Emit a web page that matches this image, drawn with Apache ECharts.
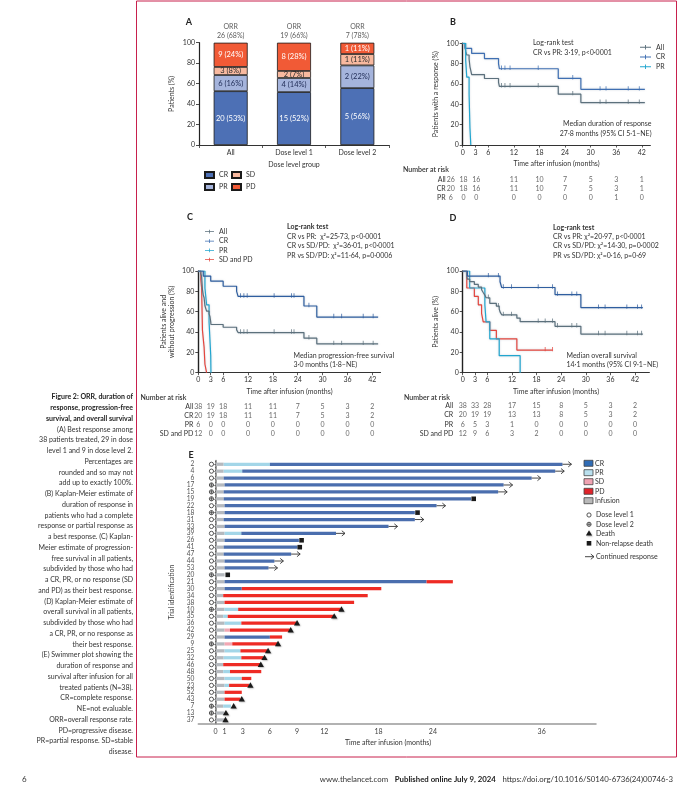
<!DOCTYPE html>
<html><head><meta charset="utf-8">
<script src="https://cdn.jsdelivr.net/npm/echarts@6/dist/echarts.min.js"></script>
<style>html,body{margin:0;padding:0;background:#fff}#c{width:688px;height:792px}</style>
</head><body><div id="c"></div>
<script>
// ---------- Panel A: best response ----------
const groups = ['All', 'Dose level 1', 'Dose level 2'];
const crCount = [20, 15, 5];
const prCount = [6, 4, 2];
const sdCount = [3, 2, 1];
const pdCount = [9, 8, 1];
const crPct = [52.6, 51.7, 55.6];
const prPct = [15.8, 13.8, 22.2];
const sdPct = [7.9, 6.9, 11.1];
const pdPct = [23.7, 27.6, 11.1];
const orrCount = [26, 19, 7];
const orrPct = [68, 66, 78];

// ---------- KM common ----------
const kmTicks = [0, 3, 6, 12, 18, 24, 30, 36, 42];

// ---------- Panel B: duration of response ----------
const bAll = [[0,100],[0.55,96.2],[0.7,92.3],[0.95,88.5],[1.5,84.6],[1.7,76.9],[1.9,73.1],[2.1,69.2],[5.1,65.4],[8.4,61.5],[8.6,57.7],[22.4,50.0],[27.7,41.7],[42.7,41.7]];
const bAllCens = [[9.1,57.7],[9.9,57.7],[11.1,57.7],[17.7,57.7],[25.8,50],[32.2,41.7],[33.6,41.7],[38.8,41.7],[41.4,41.7]];
const bCR = [[0,100],[0.55,95],[2.1,90],[5.1,85],[8.4,80],[8.6,75],[22.4,65.6],[27.7,54.7],[42.7,54.7]];
const bCRCens = [[9.1,75],[9.9,75],[11.1,75],[17.7,75],[25.8,65.6],[32.2,54.7],[33.6,54.7],[38.8,54.7],[41.4,54.7]];
const bPR = [[0,100],[0.7,83.3],[0.95,66.7],[1.5,50],[1.7,16.7],[1.9,0]];
const bRiskRows = ['All', 'CR', 'PR'];
const bRisk = [[26,18,16,11,10,7,5,3,1],[20,18,16,11,10,7,5,3,1],[6,0,0,0,0,0,0,1,0]];

// ---------- Panel C: progression-free survival ----------
const cAll = [[0,100],[0.6,97.4],[0.8,94.7],[1.0,81.6],[1.2,76.3],[1.4,73.7],[1.6,65.8],[2.0,60.5],[2.6,57.9],[2.8,55.3],[3.0,50.0],[3.05,47.4],[6.0,44.7],[9.25,42.1],[9.6,39.5],[25.5,33.9],[28.6,28.3],[43.4,28.3]];
const cAllCens = [[10.2,39.5],[11.0,39.5],[11.8,39.5],[18.3,39.5],[22.5,39.5],[23.1,39.5],[26.7,33.9],[32.7,28.3],[34.6,28.3],[39.8,28.3],[42.2,28.3]];
const cCR = [[0,100],[1.2,95],[3.0,90],[6.0,85],[9.25,80],[9.6,75],[25.5,65.6],[28.6,54.7],[43.4,54.7]];
const cCRCens = [[10.2,75],[11.0,75],[11.8,75],[18.3,75],[22.5,75],[23.1,75],[26.7,65.6],[32.7,54.7],[34.6,54.7],[39.8,54.7],[42.2,54.7]];
const cPR = [[0,100],[1.6,83.3],[2.0,66.7],[2.6,50],[2.8,33.3],[3.0,16.7],[3.05,0]];
const cSD = [[0,100],[0.6,91.7],[0.8,83.3],[1.0,41.7],[1.2,33.3],[1.4,25],[1.6,8.3],[2.0,0]];
const cdRiskRows = ['All', 'CR', 'PR', 'SD and PD'];
const cRisk = [[38,19,18,11,11,7,5,3,2],[20,19,18,11,11,7,5,3,2],[6,0,0,0,0,0,0,0,0],[12,0,0,0,0,0,0,0,0]];

// ---------- Panel D: overall survival ----------
const dAll = [[0,100],[1.0,94.7],[1.14,92.1],[1.7,89.5],[2.84,86.8],[3.8,84.2],[4.6,81.6],[5.0,78.9],[5.4,76.3],[5.7,73.7],[6.6,68.2],[8.2,65.5],[8.9,62.6],[9.1,59.8],[9.5,56.9],[13.2,53.6],[14.0,50.2],[22.5,45.6],[28.8,38.0],[43.9,38.0]];
const dAllCens = [[6.25,73.7],[8.7,65.5],[9.9,56.9],[11.9,56.9],[18.4,50.2],[20.1,50.2],[21.9,50.2],[23.1,45.6],[26.6,45.6],[27.8,45.6],[33.1,38],[34.7,38],[40.0,38],[42.6,38],[43.6,38]];
const dCR = [[0,100],[1.14,95],[9.1,89.4],[9.5,83.8],[22.5,76.8],[28.8,64.0],[43.9,64.0]];
const dCRCens = [[6.25,95],[8.7,95],[9.9,83.8],[11.9,83.8],[18.4,83.8],[21.9,83.8],[23.1,76.8],[26.6,76.8],[27.8,76.8],[33.1,64],[34.7,64],[40.0,64],[42.6,64],[43.6,64]];
const dPR = [[0,100],[1.7,83.3],[5.4,66.7],[5.7,50],[6.6,33.3],[8.9,16.7],[14.0,0]];
const dSD = [[0,100],[1.0,83.3],[2.84,75],[3.8,66.7],[4.6,58.3],[5.0,50],[6.6,41.7],[8.2,33.3],[13.2,22.2],[21.9,22.2]];
const dSDCens = [[20.1,22.2],[21.9,22.2]];
const dRisk = [[38,33,28,17,15,8,5,3,2],[20,19,19,13,13,8,5,3,2],[6,5,3,1,0,0,0,0,0],[12,9,6,3,2,0,0,0,0]];

// ---------- Panel E: swimmer plot ----------
const swimTicks = [0, 1, 3, 6, 9, 12, 18, 24, 36];
const swimIds = ['2','4','6','17','15','19','22','18','31','33','39','26','41','47','44','53','20','21','30','34','38','10','35','36','42','29','9','25','32','46','48','50','23','52','43','7','13','37'];
const swimDose = [1,1,1,2,2,2,1,2,1,1,1,1,1,1,1,1,2,1,1,1,1,2,1,1,1,1,2,1,1,1,1,1,1,1,1,2,2,1];
const swimSegments = [
 [['Infusion',0.9],['PR',6.0],['CR',38.3]],
 [['Infusion',0.9],['PR',2.95],['CR',37.5]],
 [['Infusion',0.9],['CR',34.9]],
 [['Infusion',1.0],['CR',31.8]],
 [['Infusion',0.9],['CR',31.2]],
 [['Infusion',0.9],['CR',28.2]],
 [['Infusion',1.0],['CR',24.4]],
 [['Infusion',1.0],['CR',22.0]],
 [['Infusion',0.9],['CR',22.0]],
 [['Infusion',1.0],['CR',19.1]],
 [['Infusion',1.0],['PR',2.85],['CR',13.3]],
 [['Infusion',1.0],['CR',9.2]],
 [['Infusion',0.9],['CR',9.05]],
 [['Infusion',0.9],['CR',8.35]],
 [['Infusion',1.0],['CR',6.5]],
 [['Infusion',1.0],['CR',5.85]],
 [['Infusion',1.0]],
 [['Infusion',1.0],['CR',23.3],['PD',26.2]],
 [['Infusion',1.0],['CR',2.9],['PD',18.3]],
 [['Infusion',0.85],['PD',16.8]],
 [['Infusion',1.0],['PD',15.3]],
 [['Infusion',1.0],['PR',2.5],['PD',13.8]],
 [['Infusion',0.85],['PR',1.35],['PD',13.0]],
 [['Infusion',1.0],['PR',2.85],['PD',8.9]],
 [['Infusion',1.0],['SD',1.6],['PD',8.2]],
 [['Infusion',1.0],['CR',6.0],['PD',7.35]],
 [['Infusion',1.0],['SD',1.85],['PD',6.8]],
 [['Infusion',1.0],['PR',2.75],['PD',5.7]],
 [['Infusion',0.9],['PR',2.85],['PD',5.3]],
 [['Infusion',0.85],['PD',4.95]],
 [['Infusion',0.85],['PR',1.6],['PD',5.05]],
 [['Infusion',1.0],['PR',2.9],['PD',3.95]],
 [['Infusion',1.0],['PR',1.5],['PD',3.7]],
 [['Infusion',1.0],['PD',2.9]],
 [['Infusion',1.0],['PD',2.75]],
 [['Infusion',0.85],['PR',1.7]],
 [['Infusion',1.0]],
 [['Infusion',1.0]]
];
const swimEvents = [
 ['arrow',38.3],['arrow',37.5],['arrow',34.9],['arrow',31.8],['arrow',31.2],['nrd',28.5],['arrow',24.4],['nrd',22.3],['arrow',22.0],['arrow',19.1],
 ['arrow',13.3],['nrd',9.5],['nrd',9.3],['arrow',8.35],['arrow',6.5],['arrow',5.85],['nrd',1.35],[null,0],[null,0],[null,0],
 [null,0],['death',13.9],['death',13.1],['death',9.0],['death',8.3],[null,0],['death',6.9],['death',5.8],['death',5.4],['death',5.0],
 [null,0],[null,0],['death',3.85],[null,0],['death',2.9],['death',2.0],['death',1.15],['death',1.1]
];
const segTypes = ['CR', 'PR', 'SD', 'PD', 'Infusion'];
const segColors = ['#4a6eae', '#a3d6e8', '#f2a7b3', '#ee2b24', '#b5b9be'];

// ---------- styles ----------
const FONT = 'Lato';
const TXT = '#333';
const C_ALL = '#5c707c', C_CR = '#2f5e9f', C_PR = '#22a6cf', C_SD = '#e5453d';

const chart = echarts.init(document.getElementById('c'), null, {renderer: 'canvas', width: 688, height: 792});

const nameStyle = {fontSize: 7, color: TXT, fontFamily: FONT, lineHeight: 8};
function kmX(gi, max) {
  return {type: 'value', gridIndex: gi, min: 0, max: max,
    axisLine: {show: true, lineStyle: {color: '#333', width: 1}},
    axisTick: {show: true, length: 2.5, customValues: kmTicks, lineStyle: {color: '#333', width: 0.8}},
    axisLabel: {customValues: kmTicks, fontSize: 7, color: TXT, margin: 4, fontFamily: FONT},
    splitLine: {show: false},
    name: 'Time after infusion (months)', nameLocation: 'middle', nameGap: 15, nameTextStyle: nameStyle};
}
function kmY(gi, name) {
  return {type: 'value', gridIndex: gi, min: 0, max: 100, interval: 20,
    axisLine: {show: true, lineStyle: {color: '#222', width: 1.4}},
    axisTick: {show: true, length: 3, lineStyle: {color: '#222', width: 0.8}},
    axisLabel: {fontSize: 7, color: TXT, margin: 4, fontFamily: FONT},
    splitLine: {show: false},
    name: name, nameLocation: 'middle', nameRotate: 90, nameGap: 23, nameTextStyle: nameStyle};
}
function riskX(gi, max) {
  return {type: 'value', gridIndex: gi, min: 0, max: max, show: false};
}
function riskY(gi, rows, margin) {
  return {type: 'category', gridIndex: gi, data: rows, inverse: true,
    axisLine: {show: false}, axisTick: {show: false},
    axisLabel: {fontSize: 7, color: TXT, margin: margin, fontFamily: FONT, interval: 0, hideOverlap: false}};
}
function km(name, data, color, gi) {
  return {type: 'line', name, xAxisIndex: gi, yAxisIndex: gi, data, step: 'end', symbol: 'none', color,
    lineStyle: {color, width: 1.2, shadowColor: 'rgba(150,165,180,0.55)', shadowBlur: 2}, z: 3,
    emphasis: {disabled: true}, silent: true};
}
function cens(name, data, color, gi) {
  return {type: 'scatter', name, xAxisIndex: gi, yAxisIndex: gi, data, symbol: 'rect',
    symbolSize: [0.9, 4.4], symbolOffset: [0, -1], itemStyle: {color}, z: 4, silent: true};
}
function risk(table, gi, shiftFirst) {
  const data = [];
  table.forEach((row, ri) => row.forEach((n, ti) => {
    const item = {value: [kmTicks[ti], ri, n]};
    if (shiftFirst && ti < 3) item.label = {offset: [-12, 0]};
    data.push(item);
  }));
  return {type: 'scatter', xAxisIndex: gi, yAxisIndex: gi, data, symbolSize: 1,
    itemStyle: {color: 'transparent'}, silent: true,
    label: {show: true, position: 'inside', formatter: p => String(p.value[2]), fontSize: 7, color: '#444', fontFamily: FONT}};
}
function bar(name, pct, cnt, color, lc) {
  return {type: 'bar', name, xAxisIndex: 0, yAxisIndex: 0, stack: 'resp', barWidth: 34,
    data: pct.map((v, i) => ({value: v, cnt: cnt[i]})),
    itemStyle: {color, borderColor: '#1a1a1a', borderWidth: 0.8},
    label: {show: true, position: 'inside', formatter: p => p.data.cnt + ' (' + Math.round(p.value) + '%)', color: lc, fontSize: 7.5, fontFamily: FONT},
    emphasis: {disabled: true}, silent: true};
}

// swimmer data
const segData = [];
swimSegments.forEach((segs, i) => {
  let s = 0;
  segs.forEach(([t, e]) => { segData.push([s, i, e, segTypes.indexOf(t)]); s = e; });
});
const markData = [];
swimDose.forEach((d, i) => markData.push([-0.45, i, d === 1 ? 0 : 1]));
swimEvents.forEach(([k, at], i) => {
  if (k === 'death') markData.push([at, i, 2]);
  else if (k === 'nrd') markData.push([at, i, 3]);
  else if (k === 'arrow') markData.push([at, i, 4]);
});
function renderSeg(params, api) {
  const s = api.coord([api.value(0), api.value(1)]);
  const e = api.coord([api.value(2), api.value(1)]);
  const h = api.size([0, 1])[1] * 0.47;
  return {type: 'rect', shape: {x: s[0], y: s[1] - h / 2, width: e[0] - s[0], height: h},
    style: {fill: segColors[api.value(3)]}};
}
function markShape(k, x, y) {
  const ink = '#444';
  if (k === 0) return {type: 'circle', shape: {cx: x, cy: y, r: 2.1}, style: {fill: '#fff', stroke: ink, lineWidth: 0.9}};
  if (k === 1) return {type: 'group', children: [
    {type: 'circle', shape: {cx: x, cy: y, r: 2.1}, style: {fill: '#fff', stroke: ink, lineWidth: 0.9}},
    {type: 'line', shape: {x1: x - 2.1, y1: y, x2: x + 2.1, y2: y}, style: {stroke: ink, lineWidth: 0.8}},
    {type: 'line', shape: {x1: x, y1: y - 2.1, x2: x, y2: y + 2.1}, style: {stroke: ink, lineWidth: 0.8}}]};
  if (k === 2) return {type: 'polygon', shape: {points: [[x, y - 3.1], [x - 3.1, y + 2.3], [x + 3.1, y + 2.3]]},
    style: {fill: '#1a1a1a', shadowColor: 'rgba(0,0,0,0.3)', shadowBlur: 1.5, shadowOffsetX: 0.8, shadowOffsetY: 0.8}};
  if (k === 3) return {type: 'rect', shape: {x: x - 2.3, y: y - 2.3, width: 4.6, height: 4.6}, style: {fill: '#1a1a1a'}};
  return {type: 'group', children: [
    {type: 'line', shape: {x1: x, y1: y, x2: x + 9, y2: y}, style: {stroke: '#333', lineWidth: 0.9}},
    {type: 'polyline', shape: {points: [[x + 5.8, y - 2.6], [x + 9, y], [x + 5.8, y + 2.6]]}, style: {stroke: '#333', fill: null, lineWidth: 0.9}}]};
}
function renderMark(params, api) {
  const p = api.coord([api.value(0), api.value(1)]);
  return markShape(api.value(2), p[0], p[1]);
}

// ---------- graphics: texts and frame ----------
const graphics = [];
function txt(x, y, text, o) {
  o = o || {};
  graphics.push({type: 'text', silent: true, z: 10,
    style: {x, y, text, fill: o.c || TXT, font: (o.w || 'normal') + ' ' + (o.s || 7) + 'px ' + FONT,
      textAlign: o.a || 'left', textVerticalAlign: 'middle'}});
}
graphics.push({type: 'rect', silent: true, shape: {x: 136.5, y: 1, width: 540, height: 756},
  style: {fill: null, stroke: '#c8204d', lineWidth: 1}});
// panel letters
txt(189, 22, 'A', {w: 'bold', s: 9, a: 'center', c: '#222'});
txt(453, 22, 'B', {w: 'bold', s: 9, a: 'center', c: '#222'});
txt(190, 217, 'C', {w: 'bold', s: 9, a: 'center', c: '#222'});
txt(453, 218, 'D', {w: 'bold', s: 9, a: 'center', c: '#222'});
txt(191, 455, 'E', {w: 'bold', s: 9, a: 'center', c: '#222'});
// B annotations
txt(533, 43, 'Log-rank test');
txt(533, 52.7, 'CR vs PR: 3·19, p<0·0001');
txt(651.5, 124, 'Median duration of response', {a: 'right'});
txt(651.5, 134, '27·8 months (95% CI 5·1–NE)', {a: 'right'});
txt(403, 170, 'Number at risk', {w: '600'});
// C annotations
txt(287, 226.7, 'Log-rank test', {w: 'bold'});
txt(287, 236.7, 'CR vs PR:  χ²=25·73, p<0·0001');
txt(287, 246, 'CR vs SD/PD:  χ²=36·01, p<0·0001');
txt(287, 255.7, 'PR vs SD/PD: χ²=11·64, p=0·0006');
txt(293.5, 355.7, 'Median progression-free survival');
txt(293.5, 365, '3·0 months (1·8–NE)');
txt(140.5, 397.5, 'Number at risk', {w: '600'});
// D annotations
txt(553, 227.3, 'Log-rank test', {w: 'bold'});
txt(553, 236.7, 'CR vs PR: χ²=20·97, p<0·0001');
txt(553, 246, 'CR vs SD/PD: χ²=14·30, p=0·0002');
txt(553, 255.7, 'PR vs SD/PD: χ²=0·16, p=0·69');
txt(566.5, 355.7, 'Median overall survival');
txt(566.5, 365, '14·1 months (95% CI 9·1–NE)');
txt(404, 397.5, 'Number at risk', {w: '600'});
// E axis name
txt(388, 742.7, 'Time after infusion (months)', {a: 'center'});
// E legend
const legBoxY = [463.3, 472.7, 481.7, 491.3, 500.7];
const legBoxCol = ['#2f6cb5', '#b9e0ee', '#f0a3b2', '#e0232a', '#b9b9b9'];
segTypes.forEach((t, i) => {
  graphics.push({type: 'rect', silent: true, shape: {x: 584, y: legBoxY[i] - 3, width: 9, height: 6},
    style: {fill: legBoxCol[i], stroke: '#444', lineWidth: 0.8}});
  txt(595, legBoxY[i], t);
});
const legSym = [[0, 515, 'Dose level 1'], [1, 524.3, 'Dose level 2'], [2, 533.3, 'Death'], [3, 543.3, 'Non-relapse death'], [4, 556.7, 'Continued response']];
legSym.forEach(([k, y, t]) => {
  const g = markShape(k, k === 4 ? 585 : 589, y);
  g.silent = true;
  graphics.push(g);
  txt(596, y, t);
});
// caption
const captionTitle = ['Figure 2: ORR, duration of', 'response, progression-free', 'survival, and overall survival'];
const captionBody = ['(A) Best response among', '38 patients treated, 29 in dose', 'level 1 and 9 in dose level 2.', 'Percentages are', 'rounded and so may not', 'add up to exactly 100%.', '(B) Kaplan-Meier estimate of', 'duration of response in', 'patients who had a complete', 'response or partial response as', 'a best response. (C) Kaplan-', 'Meier estimate of progression-', 'free survival in all patients,', 'subdivided by those who had', 'a CR, PR, or no response (SD', 'and PD) as their best response.', '(D) Kaplan-Meier estimate of', 'overall survival in all patients,', 'subdivided by those who had', 'a CR, PR, or no response as', 'their best response.', '(E) Swimmer plot showing the', 'duration of response and', 'survival after infusion for all', 'treated patients (N=38).', 'CR=complete response.', 'NE=not evaluable.', 'ORR=overall response rate.', 'PD=progressive disease.', 'PR=partial response. SD=stable', 'disease.'];
captionTitle.concat(captionBody).forEach((line, i) => {
  txt(133, 397 + i * 10.75, line, {a: 'right', w: i < 3 ? 'bold' : 'normal', c: i < 3 ? '#222' : '#333'});
});
// footer
txt(22, 779, '6', {s: 8});
graphics.push({type: 'text', silent: true, style: {x: 673, y: 779, textAlign: 'right', textVerticalAlign: 'middle',
  text: '{a|www.thelancet.com}  {b|Published online July 9, 2024}  {a|https://doi.org/10.1016/S0140-6736(24)00746-3}',
  rich: {a: {fontSize: 7.8, fontFamily: FONT, fill: '#333'}, b: {fontSize: 7.8, fontFamily: FONT, fontWeight: 'bold', fill: '#222'}}}});

const legIcon = 'path://M0,2.5H12V3.5H0Z M5.5,0.5H6.5V5.5H5.5Z';

const option = {
  animation: false,
  textStyle: {fontFamily: FONT},
  grid: [
    {left: 199, top: 42.7, width: 190, height: 102.3, outerBoundsMode: 'none'},
    {left: 462.7, top: 43.3, width: 187.7, height: 101.7, outerBoundsMode: 'none'},
    {left: 198.3, top: 271, width: 182.3, height: 101.7, outerBoundsMode: 'none'},
    {left: 462.7, top: 271, width: 186.7, height: 101.7, outerBoundsMode: 'none'},
    {left: 462.7, top: 174.6, width: 187.7, height: 28, outerBoundsMode: 'none'},
    {left: 198.3, top: 402.2, width: 182.3, height: 36.4, outerBoundsMode: 'none'},
    {left: 462.7, top: 401.5, width: 186.7, height: 36.4, outerBoundsMode: 'none'},
    {left: 198.3, top: 460.8, width: 397.7, height: 262.6, outerBoundsMode: 'none'}
  ],
  xAxis: [
    {type: 'category', gridIndex: 0, data: groups,
      axisLine: {lineStyle: {color: '#333', width: 1}},
      axisTick: {show: true, length: 3, lineStyle: {color: '#333', width: 0.8}},
      axisLabel: {fontSize: 7, color: TXT, margin: 4},
      name: 'Dose level group', nameLocation: 'middle', nameGap: 16, nameTextStyle: nameStyle},
    kmX(1, 44), kmX(2, 44), kmX(3, 45.5),
    riskX(4, 44), riskX(5, 44), riskX(6, 45.5),
    {type: 'value', gridIndex: 7, min: -1.9, max: 42,
      axisLine: {show: true, lineStyle: {color: '#999', width: 1.5}},
      axisTick: {show: false},
      axisLabel: {customValues: swimTicks, fontSize: 7, color: '#444', margin: 5},
      splitLine: {show: false}}
  ],
  yAxis: [
    {type: 'value', gridIndex: 0, min: 0, max: 100, interval: 20,
      axisLine: {show: true, lineStyle: {color: '#222', width: 1.2}},
      axisTick: {show: true, length: 3, lineStyle: {color: '#222', width: 0.8}},
      axisLabel: {fontSize: 7, color: TXT, margin: 4},
      splitLine: {show: false},
      name: 'Patients (%)', nameLocation: 'middle', nameRotate: 90, nameGap: 23, nameTextStyle: nameStyle},
    kmY(1, 'Patients with a response (%)'),
    kmY(2, 'Patients alive and\nwithout progression (%)'),
    kmY(3, 'Patients alive (%)'),
    riskY(4, bRiskRows, 17), riskY(5, cdRiskRows, 5), riskY(6, cdRiskRows, 9.5),
    {type: 'category', gridIndex: 7, data: swimIds, inverse: true,
      axisLine: {show: true, lineStyle: {color: '#9a9a9a', width: 2}},
      axisTick: {show: true, length: 3, alignWithLabel: true, lineStyle: {color: '#9a9a9a', width: 1}},
      axisLabel: {fontSize: 6.6, color: '#555', margin: 4, interval: 0},
      name: 'Trial identification', nameLocation: 'middle', nameRotate: 90, nameGap: 23, nameTextStyle: {fontSize: 7, color: '#444'}}
  ],
  legend: [
    {data: ['CR', 'PR'], orient: 'vertical', left: 199, top: 166, itemWidth: 9, itemHeight: 6, itemGap: 4, icon: 'rect',
      selectedMode: false, textStyle: {fontSize: 7, color: TXT, lineHeight: 8}},
    {data: ['SD', 'PD'], orient: 'vertical', left: 226, top: 166, itemWidth: 9, itemHeight: 6, itemGap: 4, icon: 'rect',
      selectedMode: false, textStyle: {fontSize: 7, color: TXT, lineHeight: 8}},
    {data: ['All', 'CR ', 'PR '], orient: 'vertical', left: 635, top: 38.3, itemWidth: 11, itemHeight: 6, itemGap: 1.7, icon: legIcon,
      selectedMode: false, textStyle: {fontSize: 7, color: TXT, lineHeight: 8}},
    {data: ['All', 'CR ', 'PR ', 'SD and PD'], orient: 'vertical', left: 200, top: 222.7, itemWidth: 9, itemHeight: 6, itemGap: 1.3, icon: legIcon,
      selectedMode: false, textStyle: {fontSize: 7, color: TXT, lineHeight: 8}}
  ],
  series: [
    bar('CR', crPct, crCount, '#4d70b5', '#ffffff'),
    bar('PR', prPct, prCount, '#a5b4dc', '#1f2b55'),
    bar('SD', sdPct, sdCount, '#f8b99f', '#2b2b2b'),
    bar('PD', pdPct, pdCount, '#f15a36', '#ffffff'),
    {type: 'scatter', xAxisIndex: 0, yAxisIndex: 0, symbolSize: 1, itemStyle: {color: 'transparent'}, silent: true,
      data: groups.map((g, i) => ({value: [i, 100], cnt: orrCount[i], pct: orrPct[i]})),
      label: {show: true, position: 'top', distance: 2, formatter: p => 'ORR\n' + p.data.cnt + ' (' + p.data.pct + '%)', fontSize: 7, lineHeight: 8.7, color: TXT}},
    // B
    km('All', bAll, C_ALL, 1), cens('All', bAllCens, C_ALL, 1),
    km('CR ', bCR, '#3f6fb2', 1), cens('CR ', bCRCens, '#3f6fb2', 1),
    km('PR ', bPR, C_PR, 1),
    // C
    km('SD and PD', cSD, C_SD, 2),
    km('PR ', cPR, C_PR, 2),
    km('All', cAll, C_ALL, 2), cens('All', cAllCens, C_ALL, 2),
    km('CR ', cCR, C_CR, 2), cens('CR ', cCRCens, C_CR, 2),
    // D
    km('SD and PD', dSD, C_SD, 3), cens('SD and PD', dSDCens, C_SD, 3),
    km('PR ', dPR, C_PR, 3),
    km('All', dAll, C_ALL, 3), cens('All', dAllCens, C_ALL, 3),
    km('CR ', dCR, C_CR, 3), cens('CR ', dCRCens, C_CR, 3),
    // risk tables
    risk(bRisk, 4, true), risk(cRisk, 5, false), risk(dRisk, 6, false),
    // E
    {type: 'custom', xAxisIndex: 7, yAxisIndex: 7, data: segData, renderItem: renderSeg, encode: {x: [0, 2], y: 1}, silent: true, z: 2,
      markLine: {silent: true, symbol: 'none', label: {show: false}, lineStyle: {type: [1.5, 1.5], color: '#555', width: 0.8},
        data: [{xAxis: 0}]}},
    {type: 'custom', xAxisIndex: 7, yAxisIndex: 7, data: markData, renderItem: renderMark, encode: {x: 0, y: 1}, silent: true, z: 5}
  ],
  graphic: graphics
};
chart.setOption(option);
</script>
</body></html>
